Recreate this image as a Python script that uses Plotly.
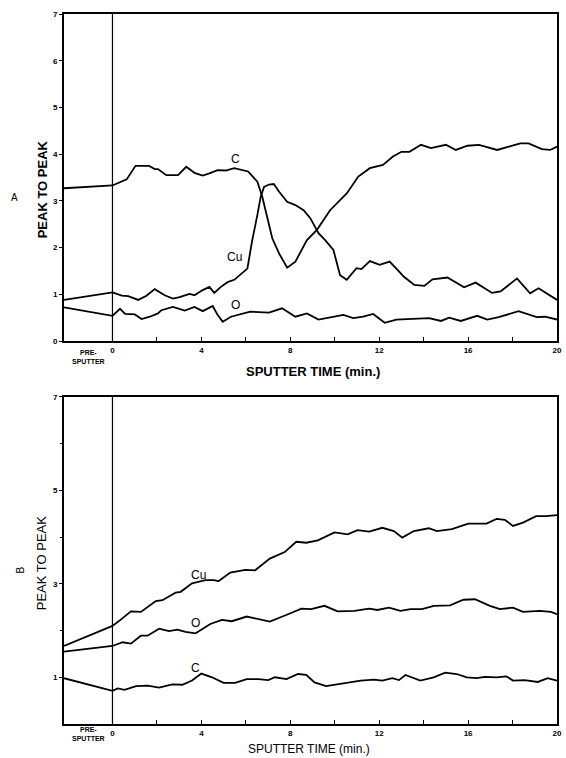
import plotly.graph_objects as go

# ---------------- data ----------------
# Panel A
a_c_t = [-2.18, 0, 0.64, 1.04, 1.64, 1.9, 2.05, 2.42, 2.95, 3.32, 3.69, 4.06, 4.36, 4.73, 5.1, 5.48, 6.1,
         6.52, 6.74, 6.96, 7.19, 7.49, 7.86, 8.23, 8.75, 9.2, 9.79, 10.54, 11.06, 11.58, 12.17, 12.62, 13.0,
         13.36, 13.88, 14.33, 15.0, 15.45, 15.97, 16.49, 17.31, 17.83, 18.35, 18.72, 19.32, 19.69, 20]
a_c_v = [3.27, 3.33, 3.46, 3.75, 3.75, 3.68, 3.68, 3.55, 3.55, 3.73, 3.6, 3.54, 3.59, 3.66, 3.65, 3.70, 3.63,
         3.41, 3.09, 2.66, 2.2, 1.88, 1.57, 1.70, 2.16, 2.38, 2.8, 3.16, 3.52, 3.70, 3.77, 3.95, 4.05,
         4.05, 4.20, 4.13, 4.20, 4.09, 4.18, 4.2, 4.09, 4.16, 4.23, 4.23, 4.11, 4.09, 4.16]

a_cu_t = [-2.18, 0, 0.42, 0.71, 1.16, 1.53, 1.9, 2.35, 2.72, 3.02, 3.47, 3.69, 4.06, 4.36, 4.58, 4.88, 5.18,
          5.48, 6.07, 6.29, 6.52, 6.67, 6.82, 7.04, 7.26, 7.49, 7.86, 8.23, 8.6, 8.9, 9.27, 9.57, 9.94,
          10.24, 10.54, 10.98, 11.2, 11.58, 12.02, 12.47, 12.91, 13.1, 13.58, 14.03, 14.4, 15.07, 15.82,
          16.34, 17.08, 17.46, 18.2, 18.79, 19.17, 19.69, 20]
a_cu_v = [0.88, 1.04, 0.97, 0.96, 0.88, 0.97, 1.11, 0.98, 0.91, 0.94, 1.01, 0.98, 1.09, 1.16, 1.03, 1.16, 1.26,
          1.31, 1.55, 2.16, 2.70, 3.09, 3.30, 3.35, 3.36, 3.2, 2.98, 2.91, 2.8, 2.63, 2.31, 2.16, 1.95,
          1.41, 1.31, 1.56, 1.54, 1.71, 1.63, 1.70, 1.48, 1.38, 1.2, 1.18, 1.32, 1.36, 1.15,
          1.25, 1.03, 1.06, 1.34, 1.02, 1.13, 0.98, 0.88]

a_o_t = [-2.18, 0, 0.34, 0.57, 1.01, 1.31, 1.68, 2.05, 2.2, 2.72, 3.25, 3.69, 4.06, 4.51, 4.73, 4.96, 5.33,
         6.2, 7.04, 7.63, 8.23, 8.75, 9.27, 9.94, 10.39, 10.83, 11.28, 11.73, 12.25, 12.77, 14.25, 14.78,
         15.15, 15.67, 16.41, 16.86, 17.38, 18.27, 19.09, 19.46, 20]
a_o_v = [0.72, 0.54, 0.69, 0.58, 0.57, 0.47, 0.52, 0.59, 0.66, 0.73, 0.65, 0.73, 0.64, 0.75, 0.56, 0.41, 0.52,
         0.63, 0.61, 0.70, 0.52, 0.59, 0.46, 0.52, 0.56, 0.49, 0.52, 0.58, 0.39, 0.46, 0.49, 0.43,
         0.5, 0.43, 0.54, 0.46, 0.51, 0.64, 0.51, 0.52, 0.46]

# Panel B
b_cu_t = [-2.18, 0, 0.39, 0.83, 1.28, 1.65, 1.95, 2.25, 2.84, 3.07, 3.58, 4.18, 4.55, 4.78, 5.3, 5.97, 6.42,
          7.08, 7.75, 8.27, 8.72, 9.24, 9.99, 10.58, 11.03, 11.55, 12.14, 12.66, 13.04, 13.56, 14.23, 14.6,
          15.27, 16.01, 16.83, 17.28, 17.65, 18.02, 18.47, 19.06, 19.51, 20]
b_cu_v = [1.67, 2.10, 2.24, 2.41, 2.40, 2.53, 2.63, 2.65, 2.81, 2.83, 3.01, 3.08, 3.08, 3.06, 3.24, 3.30, 3.29,
          3.54, 3.68, 3.90, 3.88, 3.93, 4.10, 4.06, 4.15, 4.12, 4.20, 4.13, 3.99, 4.13, 4.19, 4.13,
          4.17, 4.29, 4.29, 4.39, 4.37, 4.24, 4.31, 4.45, 4.45, 4.47]

b_o_t = [-2.18, 0, 0.46, 0.83, 1.28, 1.58, 2.1, 2.54, 2.92, 3.29, 3.74, 4.4, 4.93, 5.37, 6.04, 7.08, 7.9,
         8.5, 8.94, 9.54, 10.13, 10.88, 11.55, 11.92, 12.44, 12.96, 13.41, 13.93, 14.45, 15.19, 15.79,
         16.31, 16.98, 17.43, 18.02, 18.47, 19.21, 19.73, 20]
b_o_v = [1.55, 1.67, 1.75, 1.72, 1.89, 1.89, 2.04, 1.99, 2.02, 1.97, 1.94, 2.14, 2.23, 2.20, 2.30, 2.19, 2.35,
         2.47, 2.46, 2.53, 2.41, 2.42, 2.47, 2.44, 2.49, 2.42, 2.46, 2.46, 2.53, 2.54, 2.66,
         2.67, 2.53, 2.46, 2.49, 2.40, 2.42, 2.40, 2.35]

b_c_t = [-2.18, 0, 0.24, 0.54, 1.06, 1.58, 2.1, 2.69, 3.14, 3.58, 4.0, 4.48, 5.0, 5.52, 6.04, 6.56, 7.01,
         7.31, 7.83, 8.35, 8.72, 9.09, 9.61, 10.13, 10.58, 11.17, 11.77, 12.14, 12.59, 12.89, 13.18, 13.85,
         14.45, 14.97, 15.49, 15.94, 16.38, 16.76, 17.28, 17.72, 18.02, 18.54, 19.14, 19.58, 20]
b_c_v = [0.98, 0.71, 0.76, 0.73, 0.81, 0.82, 0.78, 0.85, 0.84, 0.93, 1.08, 1.00, 0.88, 0.88, 0.96, 0.96, 0.94,
         1.00, 0.96, 1.07, 1.05, 0.89, 0.81, 0.85, 0.90, 0.93, 0.95, 0.93, 0.98, 0.94, 1.05, 0.93,
         1.00, 1.10, 1.07, 1.00, 0.98, 1.01, 1.00, 1.02, 0.93, 0.94, 0.90, 0.98, 0.93]

x_tickvals = [0, 2, 4, 6, 8, 10, 12, 14, 16, 18, 20]
x_ticktext = ["0", "", "4", "", "8", "", "12", "", "16", "", "20"]
ya_ticks = [0, 1, 2, 3, 4, 5, 6, 7]
yb_ticks = [1, 3, 5, 7]
yb_minor = [2, 4, 6]

# curve labels: (text, t, value)
a_labels = [("C", 5.55, 3.9), ("Cu", 5.5, 1.8), ("O", 5.55, 0.78)]
b_labels = [("Cu", 3.85, 3.2), ("O", 3.75, 2.16), ("C", 3.75, 1.2)]

FONT = "Liberation Sans"
LW = 1.8

fig = go.Figure()

for t, v in [(a_c_t, a_c_v), (a_cu_t, a_cu_v), (a_o_t, a_o_v)]:
    fig.add_trace(go.Scatter(x=t, y=v, mode="lines", line=dict(color="black", width=LW),
                             xaxis="x", yaxis="y", showlegend=False, hoverinfo="skip"))
for t, v in [(b_cu_t, b_cu_v), (b_o_t, b_o_v), (b_c_t, b_c_v)]:
    fig.add_trace(go.Scatter(x=t, y=v, mode="lines", line=dict(color="black", width=LW),
                             xaxis="x2", yaxis="y2", showlegend=False, hoverinfo="skip"))

xcommon = dict(range=[-2.18, 20], tickmode="array", tickvals=x_tickvals, ticktext=x_ticktext,
               ticks="inside", ticklen=4, tickwidth=1.2, tickcolor="black",
               showline=True, linecolor="black", linewidth=2, mirror=True,
               showgrid=False, zeroline=False,
               tickfont=dict(family=FONT, size=8, color="black", weight="bold"))
ycommon = dict(range=[0, 7], ticks="outside", ticklen=3, tickwidth=1.2, tickcolor="black",
               showline=True, linecolor="black", linewidth=2, mirror=True,
               showgrid=False, zeroline=False,
               tickfont=dict(family=FONT, size=8, color="black", weight="bold"))

fig.update_layout(
    width=566, height=758,
    margin=dict(l=64, r=4, t=14, b=34),
    paper_bgcolor="white", plot_bgcolor="white",
    xaxis=dict(domain=[0, 1], anchor="y", **xcommon),
    yaxis=dict(domain=[0.5394, 1], anchor="x", tickvals=ya_ticks, **ycommon),
    xaxis2=dict(domain=[0, 1], anchor="y2", **xcommon),
    yaxis2=dict(domain=[0, 0.4606], anchor="x2", tickvals=yb_ticks,
                minor=dict(tickvals=yb_minor, ticks="outside", ticklen=2, tickcolor="black"),
                **ycommon),
)

# vertical line at t = 0 in both panels
for xr, yr in [("x", "y"), ("x2", "y2")]:
    fig.add_shape(type="line", xref=xr, yref=yr + " domain", x0=0, x1=0, y0=0, y1=1,
                  line=dict(color="black", width=1.2))

ann = []
for txt, t, v in a_labels:
    ann.append(dict(text=txt, x=t, y=v, xref="x", yref="y", showarrow=False,
                    font=dict(family=FONT, size=12, color="black")))
for txt, t, v in b_labels:
    ann.append(dict(text=txt, x=t, y=v, xref="x2", yref="y2", showarrow=False,
                    font=dict(family=FONT, size=12, color="black")))

# axis titles and panel letters
ann += [
    dict(text="PEAK TO PEAK", xref="paper", yref="paper", x=-0.044, y=0.7535, textangle=-90,
         showarrow=False, xanchor="center", yanchor="middle",
         font=dict(family=FONT, size=13, color="black", weight="bold")),
    dict(text="PEAK TO PEAK", xref="paper", yref="paper", x=-0.044, y=0.2268, textangle=-90,
         showarrow=False, xanchor="center", yanchor="middle",
         font=dict(family=FONT, size=13, color="black")),
    dict(text="SPUTTER TIME (min.)", xref="paper", yref="paper", x=0.506, y=1 - (371.5 - 14) / 710,
         showarrow=False, xanchor="center", yanchor="middle",
         font=dict(family=FONT, size=13, color="black", weight="bold")),
    dict(text="SPUTTER TIME (min.)", xref="paper", yref="paper", x=0.496, y=1 - (749 - 14) / 710,
         showarrow=False, xanchor="center", yanchor="middle",
         font=dict(family=FONT, size=12, color="black")),
    dict(text="PRE-<br>SPUTTER", xref="x", yref="paper", x=-1.1, y=1 - (356.5 - 14) / 710,
         showarrow=False, xanchor="center", yanchor="middle",
         font=dict(family=FONT, size=7, color="black", weight="bold")),
    dict(text="PRE-<br>SPUTTER", xref="x2", yref="paper", x=-1.1, y=1 - (734 - 14) / 710,
         showarrow=False, xanchor="center", yanchor="middle",
         font=dict(family=FONT, size=7, color="black", weight="bold")),
    dict(text="A", xref="paper", yref="paper", x=(14 - 64) / 498, y=1 - (197 - 14) / 710,
         showarrow=False, xanchor="center", yanchor="middle",
         font=dict(family=FONT, size=10, color="black")),
    dict(text="B", xref="paper", yref="paper", x=(20 - 64) / 498, y=1 - (570 - 14) / 710,
         showarrow=False, xanchor="center", yanchor="middle", textangle=-90,
         font=dict(family=FONT, size=10, color="black")),
]
fig.update_layout(annotations=ann)

fig.write_html("out.html")
